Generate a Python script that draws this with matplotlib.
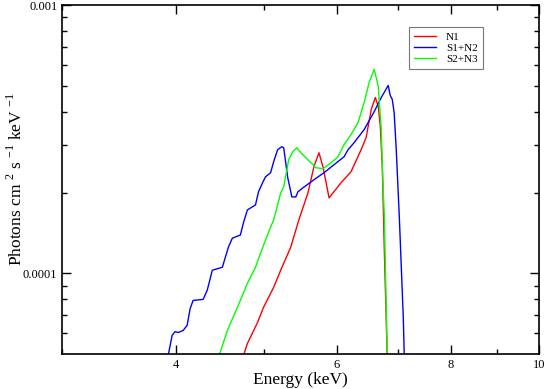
import matplotlib
matplotlib.use("Agg")
import matplotlib.pyplot as plt
from matplotlib.ticker import FixedLocator, NullFormatter

plt.rcParams['font.family'] = ['Liberation Serif', 'DejaVu Serif']
plt.rcParams['mathtext.fontset'] = 'custom'
plt.rcParams['mathtext.rm'] = 'Liberation Serif'

# N1
n1_e = [4.71, 4.789, 4.913, 4.988, 5.117, 5.209, 5.343, 5.453, 5.580, 5.665,
        5.738, 5.796, 5.886, 6.066, 6.221, 6.382, 6.463, 6.547, 6.614, 6.665,
        6.699, 6.733, 6.767, 6.82]
n1_f = [4.6e-5, 5.47e-5, 6.55e-5, 7.46e-5, 8.86e-5, 1.026e-4, 1.251e-4, 1.579e-4,
        1.994e-4, 2.495e-4, 2.814e-4, 2.495e-4, 1.910e-4, 2.174e-4, 2.390e-4,
        2.888e-4, 3.204e-4, 4.079e-4, 4.523e-4, 4.185e-4, 3.523e-4, 2.495e-4,
        1.220e-4, 4.6e-5]

# S1+N2
s1n2_e = [3.905, 3.960, 3.990, 4.021, 4.072, 4.113, 4.145, 4.176, 4.283, 4.327,
          4.361, 4.383, 4.496, 4.530, 4.565, 4.611, 4.705, 4.741, 4.789, 4.888,
          4.925, 4.976, 5.014, 5.078, 5.117, 5.169, 5.222, 5.249, 5.276, 5.303,
          5.358, 5.412, 5.440, 5.510, 5.665, 5.810, 5.960, 6.113, 6.175, 6.270,
          6.431, 6.597, 6.715, 6.834, 6.869, 6.904, 6.937, 6.974, 7.028, 7.099,
          7.12]
s1n2_f = [4.6e-5, 5.86e-5, 6.06e-5, 6.01e-5, 6.12e-5, 6.39e-5, 7.39e-5, 7.92e-5,
          7.99e-5, 8.64e-5, 9.58e-5, 1.026e-4, 1.053e-4, 1.148e-4, 1.251e-4,
          1.352e-4, 1.388e-4, 1.539e-4, 1.722e-4, 1.798e-4, 2.011e-4, 2.174e-4,
          2.290e-4, 2.370e-4, 2.604e-4, 2.888e-4, 2.964e-4, 2.938e-4, 2.582e-4,
          2.27e-4, 1.926e-4, 1.926e-4, 2.011e-4, 2.082e-4, 2.231e-4, 2.370e-4,
          2.539e-4, 2.719e-4, 2.888e-4, 3.069e-4, 3.433e-4, 4.009e-4, 4.523e-4,
          5.015e-4, 4.60e-4, 4.45e-4, 3.974e-4, 2.888e-4, 1.621e-4, 6.84e-5, 4.6e-5]

# S2+N3
s2n3_e = [4.43, 4.553, 4.670, 4.789, 4.888, 4.951, 5.014, 5.078, 5.117, 5.169,
          5.209, 5.249, 5.316, 5.371, 5.426, 5.482, 5.580, 5.694, 5.796, 5.915,
          6.020, 6.113, 6.221, 6.333, 6.431, 6.513, 6.597, 6.665, 6.682, 6.715,
          6.733, 6.767, 6.82]
s2n3_f = [4.6e-5, 6.12e-5, 7.46e-5, 9.17e-5, 1.053e-4, 1.188e-4, 1.33e-4, 1.487e-4,
          1.579e-4, 1.798e-4, 1.994e-4, 2.100e-4, 2.650e-4, 2.839e-4, 2.938e-4,
          2.814e-4, 2.650e-4, 2.475e-4, 2.453e-4, 2.582e-4, 2.719e-4, 3.016e-4,
          3.288e-4, 3.646e-4, 4.332e-4, 5.147e-4, 5.757e-4, 4.972e-4, 4.332e-4,
          3.433e-4, 2.495e-4, 1.621e-4, 4.6e-5]

x_major = [4, 6, 8, 10]
x_minor = [3, 5, 7, 9]
y_major = [1e-4, 1e-3]
y_major_labels = ['0.0001', '0.001']
y_minor = [6e-5, 7e-5, 8e-5, 9e-5, 2e-4, 3e-4, 4e-4, 5e-4, 6e-4, 7e-4, 8e-4, 9e-4]

fig = plt.figure(figsize=(5.45, 3.89), dpi=100)
ax = fig.add_axes([0.114, 0.09, 0.875, 0.897])

ax.plot(n1_e, n1_f, color='#ff0000', lw=1.0, label='N1')
ax.plot(s1n2_e, s1n2_f, color='#0000ff', lw=1.0, label='S1+N2')
ax.plot(s2n3_e, s2n3_f, color='#00ff00', lw=1.0, label='S2+N3')

ax.set_xscale('log')
ax.set_yscale('log')
ax.set_xlim(3, 10)
ax.set_ylim(5e-5, 1e-3)

ax.xaxis.set_major_locator(FixedLocator(x_major))
ax.xaxis.set_minor_locator(FixedLocator(x_minor))
ax.set_xticklabels([str(v) for v in x_major])
ax.xaxis.set_minor_formatter(NullFormatter())
ax.yaxis.set_major_locator(FixedLocator(y_major))
ax.yaxis.set_minor_locator(FixedLocator(y_minor))
ax.set_yticklabels(y_major_labels)
ax.yaxis.set_minor_formatter(NullFormatter())

ax.tick_params(which='both', direction='in', top=True, right=True,
               labelsize=9, width=1.0)
ax.tick_params(which='major', length=6.5)
ax.tick_params(which='minor', length=3.5)
for s in ax.spines.values():
    s.set_linewidth(1.2)

ax.set_xlabel('Energy (keV)', fontsize=12.5, labelpad=1)
ax.set_ylabel(r'Photons cm $^{2}$ s $^{-1}$ keV $^{-1}$', fontsize=12.5)
ax.yaxis.set_label_coords(-0.077, 0.5)

leg = ax.legend(loc='upper left', bbox_to_anchor=(0.727, 0.937), fontsize=8,
                frameon=True, fancybox=False, handlelength=2.0,
                borderpad=0.45, labelspacing=0.1, handletextpad=0.9,
                borderaxespad=0)
leg.get_frame().set_edgecolor('#555555')
leg.get_frame().set_linewidth(0.8)

fig.savefig('out.png', dpi=100)
